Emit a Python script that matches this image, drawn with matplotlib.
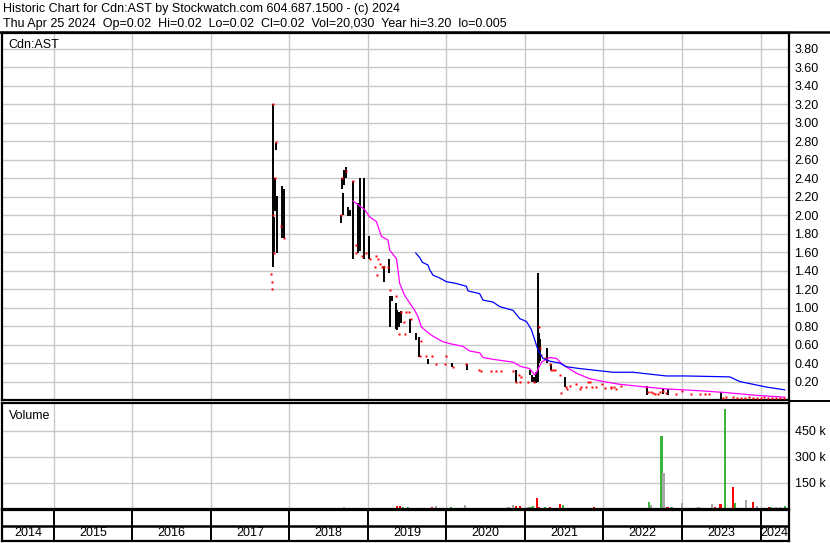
import numpy as np
import matplotlib
matplotlib.use("Agg")
import matplotlib.pyplot as plt
from matplotlib.lines import Line2D

plt.rcParams['font.family'] = ['Liberation Sans', 'DejaVu Sans']

title1 = "Historic Chart for Cdn:AST by Stockwatch.com 604.687.1500 - (c) 2024"
title2 = "Thu Apr 25 2024  Op=0.02  Hi=0.02  Lo=0.02  Cl=0.02  Vol=20,030  Year hi=3.20  lo=0.005"
symbol = "Cdn:AST"

years = list(range(2014, 2025))
x_lo, x_hi = 2014.338, 2024.363

price_ticks = [round(0.2 * i, 2) for i in range(1, 20)]
vol_ticks = [150000, 300000, 450000]
vol_labels = ["150 k", "300 k", "450 k"]

# high-low bars (decimal year, high, low)
bar_t = [2017.785, 2017.795, 2017.805, 2017.815, 2017.831, 2017.841, 2017.904, 2017.930,
         2018.656, 2018.669, 2018.682, 2018.699, 2018.716, 2018.745, 2018.767, 2018.809,
         2018.873, 2018.898, 2018.952, 2019.013, 2019.204, 2019.268, 2019.277, 2019.311,
         2019.353, 2019.375, 2019.390, 2019.417, 2019.535, 2019.617, 2019.650, 2019.769,
         2020.075, 2020.261, 2020.882, 2021.060, 2021.085, 2021.111, 2021.140, 2021.166,
         2021.178, 2021.196, 2021.285, 2021.336, 2021.506, 2022.559, 2022.754, 2022.818,
         2023.502]
bar_hi = [2.00, 3.20, 1.98, 2.40, 2.78, 2.21, 2.32, 2.28,
          2.00, 2.40, 2.24, 2.49, 2.52, 2.09, 2.06, 2.37,
          2.13, 2.40, 2.40, 1.77, 1.45, 1.52, 1.13, 1.13,
          1.05, 0.97, 0.95, 0.96, 0.88, 0.72, 0.68, 0.44,
          0.40, 0.39, 0.32, 0.32, 0.27, 0.25, 0.30, 1.37,
          0.72, 0.66, 0.56, 0.39, 0.25, 0.15, 0.12, 0.12,
          0.09]
bar_lo = [1.59, 1.44, 1.60, 2.04, 2.70, 1.59, 1.75, 1.75,
          1.92, 2.28, 2.00, 2.33, 2.40, 1.99, 1.99, 1.53,
          1.59, 1.61, 1.53, 1.52, 1.28, 1.37, 0.79, 1.07,
          0.77, 0.76, 0.79, 0.83, 0.72, 0.65, 0.47, 0.39,
          0.36, 0.32, 0.20, 0.27, 0.20, 0.20, 0.18, 0.20,
          0.40, 0.42, 0.40, 0.32, 0.14, 0.05, 0.07, 0.05,
          0.00]

# red close ticks
dot_t = [2017.770, 2017.775, 2017.780, 2017.795, 2017.831, 2017.815, 2017.892, 2017.930,
         2017.790, 2017.800, 2018.656, 2018.669, 2018.716, 2018.809, 2018.852, 2018.843,
         2018.929, 2018.971, 2019.031, 2019.107, 2019.085, 2019.132, 2019.158, 2019.178,
         2019.209, 2019.251, 2019.120, 2019.285, 2019.362, 2019.425, 2019.480, 2019.518,
         2019.464, 2019.548, 2019.400, 2019.468, 2019.680, 2019.659, 2019.744, 2019.820,
         2019.990, 2019.862, 2019.977, 2020.083, 2020.254, 2020.410, 2020.445, 2020.572,
         2020.636, 2020.699, 2020.847, 2020.890, 2020.941, 2020.920, 2020.954, 2021.038,
         2021.120, 2021.178, 2021.196, 2021.209, 2021.251, 2021.280, 2021.315, 2021.336,
         2021.360, 2021.378, 2021.451, 2021.518, 2021.530, 2021.464, 2021.569, 2021.646,
         2021.697, 2021.710, 2021.803, 2021.830, 2021.782, 2021.850, 2021.901, 2021.986,
         2022.020, 2022.092, 2022.100, 2022.130, 2022.160, 2022.228, 2022.546, 2022.570,
         2022.600, 2022.630, 2022.650, 2022.690, 2022.720, 2022.760, 2022.800, 2022.920,
         2023.005, 2023.120, 2023.226, 2023.290, 2023.340, 2023.520, 2023.560, 2023.650,
         2023.700, 2023.750, 2023.800, 2023.850, 2023.900, 2023.950, 2024.000, 2024.050,
         2024.100, 2024.150, 2024.200, 2024.250, 2024.300]
dot_v = [1.36, 1.28, 1.20, 3.20, 2.79, 2.40, 1.88, 1.75,
         2.00, 1.59, 2.00, 2.40, 2.48, 2.37, 1.68, 1.59,
         1.56, 1.59, 1.52, 1.56, 1.44, 1.52, 1.47, 1.44,
         1.44, 1.44, 1.35, 1.19, 1.12, 0.95, 0.95, 0.95,
         0.84, 0.88, 0.71, 0.71, 0.64, 0.48, 0.48, 0.48,
         0.48, 0.39, 0.39, 0.36, 0.39, 0.32, 0.31, 0.31,
         0.31, 0.31, 0.31, 0.20, 0.20, 0.27, 0.25, 0.20,
         0.20, 0.79, 0.56, 0.49, 0.45, 0.43, 0.39, 0.32,
         0.32, 0.32, 0.27, 0.14, 0.12, 0.08, 0.15, 0.17,
         0.12, 0.14, 0.20, 0.20, 0.14, 0.14, 0.14, 0.17,
         0.13, 0.14, 0.13, 0.14, 0.12, 0.15, 0.14, 0.09,
         0.09, 0.08, 0.06, 0.07, 0.09, 0.10, 0.08, 0.06,
         0.10, 0.06, 0.06, 0.06, 0.06, 0.02, 0.03, 0.03,
         0.02, 0.02, 0.02, 0.03, 0.02, 0.02, 0.02, 0.03,
         0.02, 0.02, 0.02, 0.02, 0.02]

# moving averages
ma_short_t = [2018.813, 2018.894, 2018.958, 2019.022, 2019.107, 2019.171, 2019.255, 2019.277,
              2019.362, 2019.382, 2019.404, 2019.468, 2019.531, 2019.595, 2019.637, 2019.680,
              2019.764, 2019.828, 2019.955, 2020.041, 2020.210, 2020.295, 2020.423, 2020.465,
              2020.592, 2020.847, 2020.954, 2021.060, 2021.124, 2021.166, 2021.209, 2021.315,
              2021.400, 2021.484, 2021.655, 2021.824, 2021.994, 2022.206, 2022.546, 2022.801,
              2023.226, 2023.566, 2023.948, 2024.308]
ma_short_v = [2.15, 2.10, 2.06, 1.98, 1.93, 1.77, 1.73, 1.62,
              1.53, 1.41, 1.26, 1.13, 1.05, 0.97, 0.90, 0.79,
              0.73, 0.69, 0.63, 0.61, 0.58, 0.53, 0.51, 0.46,
              0.44, 0.41, 0.36, 0.34, 0.27, 0.33, 0.41, 0.46,
              0.45, 0.38, 0.29, 0.23, 0.20, 0.17, 0.14, 0.12,
              0.10, 0.08, 0.05, 0.03]
ma_long_t = [2019.608, 2019.659, 2019.693, 2019.764, 2019.786, 2019.828, 2019.913, 2019.999,
             2020.126, 2020.254, 2020.274, 2020.423, 2020.465, 2020.592, 2020.678, 2020.847,
             2020.933, 2021.018, 2021.082, 2021.124, 2021.166, 2021.229, 2021.315, 2021.442,
             2021.527, 2021.697, 2021.910, 2022.121, 2022.376, 2022.801, 2023.056, 2023.608,
             2023.735, 2024.075, 2024.308]
ma_long_v = [1.59, 1.54, 1.49, 1.46, 1.41, 1.35, 1.32, 1.28,
             1.26, 1.23, 1.18, 1.15, 1.08, 1.06, 1.01, 0.97,
             0.88, 0.85, 0.76, 0.65, 0.54, 0.45, 0.42, 0.40,
             0.36, 0.34, 0.32, 0.30, 0.30, 0.26, 0.26, 0.25,
             0.20, 0.14, 0.11]

# volume (decimal year, shares, colour code: u=up, d=down, n=unchanged)
vol_t = [2017.773, 2017.824, 2017.888, 2017.926, 2018.639, 2018.690, 2018.728, 2018.767,
         2018.830, 2018.869, 2018.933, 2018.996, 2019.073, 2019.124, 2019.188, 2019.252,
         2019.303, 2019.366, 2019.408, 2019.442, 2019.506, 2019.582, 2019.608, 2019.659,
         2019.761, 2019.815, 2019.862, 2019.950, 2020.058, 2020.232, 2020.258, 2020.397,
         2020.448, 2020.550, 2020.614, 2020.690, 2020.790, 2020.843, 2020.882, 2020.933,
         2020.945, 2021.035, 2021.060, 2021.070, 2021.098, 2021.158, 2021.184, 2021.213,
         2021.251, 2021.277, 2021.315, 2021.340, 2021.446, 2021.480, 2021.518, 2021.582,
         2021.633, 2021.722, 2021.786, 2021.875, 2021.952, 2022.000, 2022.160, 2022.240,
         2022.546, 2022.585, 2022.610, 2022.640, 2022.670, 2022.700, 2022.739, 2022.764,
         2022.815, 2022.830, 2022.866, 2022.890, 2022.995, 2023.085, 2023.210, 2023.260,
         2023.380, 2023.420, 2023.490, 2023.515, 2023.553, 2023.620, 2023.655, 2023.670,
         2023.690, 2023.710, 2023.820, 2023.910, 2023.960, 2024.000, 2024.070, 2024.110,
         2024.130, 2024.200, 2024.250, 2024.308]
vol_v = [6000, 6000, 6000, 6000, 6000, 12000, 6000, 6000,
         6000, 6000, 6000, 6000, 6000, 6000, 6000, 6000,
         6000, 17000, 17000, 12000, 12000, 6000, 6000, 6000,
         6000, 12000, 17000, 6000, 12000, 23000, 6000, 6000,
         6000, 6000, 6000, 6000, 12000, 23000, 17000, 17000,
         6000, 12000, 6000, 12000, 17000, 63000, 12000, 6000,
         12000, 6000, 12000, 6000, 29000, 23000, 6000, 6000,
         6000, 6000, 6000, 12000, 6000, 6000, 6000, 6000,
         6000, 40000, 23000, 6000, 6000, 6000, 421000, 209000,
         12000, 6000, 12000, 6000, 35000, 6000, 12000, 6000,
         29000, 12000, 29000, 6000, 575000, 6000, 125000, 35000,
         6000, 6000, 50000, 42000, 17000, 6000, 6000, 12000,
         12000, 12000, 12000, 17000]
vol_dir = ["u", "u", "d", "d", "u", "n", "u", "d",
           "d", "u", "d", "n", "d", "u", "n", "n",
           "n", "d", "d", "u", "u", "d", "u", "d",
           "n", "d", "n", "u", "u", "n", "u", "d",
           "n", "n", "n", "n", "n", "n", "d", "d",
           "u", "n", "n", "u", "u", "d", "d", "n",
           "u", "u", "d", "n", "d", "u", "d", "u",
           "d", "u", "n", "d", "n", "u", "d", "d",
           "d", "u", "n", "n", "d", "d", "u", "n",
           "d", "u", "u", "d", "n", "d", "n", "n",
           "n", "d", "d", "u", "u", "d", "d", "u",
           "d", "d", "n", "d", "n", "n", "n", "d",
           "u", "n", "n", "u"]
dir_colors = {"u": "#3cb43c", "d": "#ff0000", "n": "#a8a8a8"}

W, H = 830, 543
fig = plt.figure(figsize=(W / 100, H / 100), dpi=100)


def rect(x0, y0, x1, y1):
    return [x0 / W, 1 - y1 / H, (x1 - x0) / W, (y1 - y0) / H]


grid_c = "#c8c8c8"
ax = fig.add_axes(rect(2, 33, 789, 400))
axv = fig.add_axes(rect(2, 403, 789, 509))
axd = fig.add_axes(rect(2, 510, 789, 541))

# price panel
ax.set_xlim(x_lo, x_hi)
ax.set_ylim(0, 3.97)
for y in price_ticks:
    ax.axhline(y, color=grid_c, lw=1, zorder=0)
for yr in years[1:]:
    ax.axvline(yr, color=grid_c, lw=1, zorder=0)
ax.vlines(bar_t, bar_lo, bar_hi, color="black", lw=1.4, zorder=2)
ax.plot(dot_t, dot_v, "s", ms=2.1, color="red", mec="none", antialiased=False, zorder=3)
ax.plot(ma_short_t, ma_short_v, color="#ff00ff", lw=0.9, zorder=4)
ax.plot(ma_long_t, ma_long_v, color="#0000ff", lw=0.9, zorder=4)
ax.set_xticks([])
ax.yaxis.tick_right()
ax.set_yticks(price_ticks)
ax.set_yticklabels(["%.2f" % v for v in price_ticks], fontsize=9)
ax.tick_params(axis="y", length=0, pad=4)
ax.text(0.008, 0.985, symbol, transform=ax.transAxes, fontsize=9, va="top", ha="left")

# volume panel
axv.set_xlim(x_lo, x_hi)
axv.set_ylim(0, 611000)
for v in vol_ticks:
    axv.axhline(v, color=grid_c, lw=1, zorder=0)
for yr in years[1:]:
    axv.axvline(yr, color=grid_c, lw=1, zorder=0)
axv.bar(vol_t, vol_v, width=0.027, color=[dir_colors[d] for d in vol_dir],
        antialiased=False, zorder=2)
axv.set_xticks([])
axv.yaxis.tick_right()
axv.set_yticks(vol_ticks)
axv.set_yticklabels(vol_labels, fontsize=9)
axv.tick_params(axis="y", length=0, pad=4)
axv.text(0.009, 0.93, "Volume", transform=axv.transAxes, fontsize=9, va="top", ha="left")

# date strip
axd.set_xlim(x_lo, x_hi)
axd.set_ylim(0, 2)
axd.axhline(1.0, color="black", lw=1.8)
for yr in years[1:]:
    axd.axvline(yr, color="black", lw=1.4)
for yr in years:
    c = (max(yr, x_lo) + min(yr + 1, x_hi)) / 2
    axd.text(c, 0.5, str(yr), ha="center", va="center", fontsize=9)
axd.set_xticks([])
axd.set_yticks([])

for a in (ax, axv, axd):
    for s in a.spines.values():
        s.set_linewidth(1.6)

# header
fig.text(3 / W, 1 - 9 / H, title1, fontsize=9, va="center", ha="left")
fig.text(3 / W, 1 - 24 / H, title2, fontsize=9, va="center", ha="left")
fig.add_artist(Line2D([0, 1], [1 - 31.5 / H, 1 - 31.5 / H], color="black", lw=1.8))
fig.add_artist(Line2D([789 / W, 1], [1 - 401 / H, 1 - 401 / H], color="black", lw=1.4))

fig.savefig("out.png", dpi=100)
